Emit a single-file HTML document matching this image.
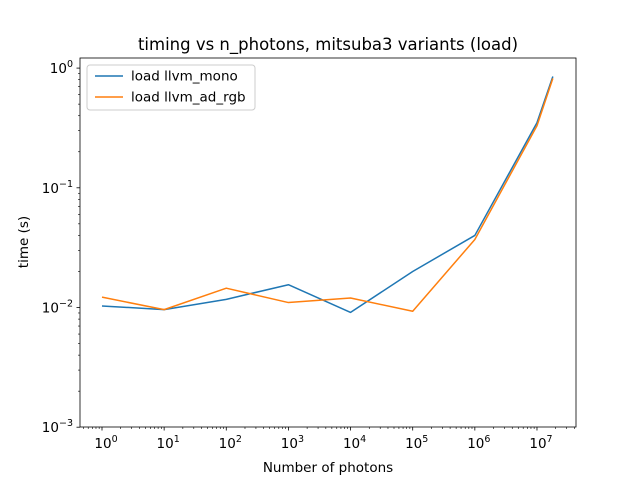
<!DOCTYPE html>
<html><head><meta charset="utf-8"><style>
body{margin:0;background:#fff}
svg text{font-family:"DejaVu Sans","Liberation Sans",sans-serif;fill:#000}
</style></head><body>
<svg id="chart" width="640" height="480" viewBox="0 0 640 480" xmlns="http://www.w3.org/2000/svg">
<rect width="640" height="480" fill="#fff"/>
<text x="328" y="50" font-size="16.5" text-anchor="middle">timing vs n_photons, mitsuba3 variants (load)</text>
<g id="grid"></g>
<g id="series"></g>
<rect x="80" y="58" width="496" height="369" fill="none" stroke="#000" stroke-width="0.8"/>
<text x="328" y="472" font-size="13.5" text-anchor="middle">Number of photons</text>
<text x="28" y="242" font-size="13.5" text-anchor="middle" transform="rotate(-90 28 242)">time (s)</text>
<g>
<rect x="87" y="65" width="168" height="45" rx="3" fill="#fff" fill-opacity="0.8" stroke="#ccc"/>
<line x1="95" y1="76" x2="123" y2="76" stroke="#1f77b4" stroke-width="1.5"/>
<text x="131" y="80.5" font-size="13.5">load llvm_mono</text>
<line x1="95" y1="97" x2="123" y2="97" stroke="#ff7f0e" stroke-width="1.5"/>
<text x="131" y="101.5" font-size="13.5">load llvm_ad_rgb</text>
</g>
</svg>
<script>
const photons=[1,10,100,1000,1e4,1e5,1e6,1e7,1.8e7];
const monoTimes=[0.0103,0.0096,0.0117,0.0155,0.0091,0.020,0.040,0.35,0.85];
const adRgbTimes=[0.0122,0.0096,0.0145,0.011,0.012,0.0093,0.037,0.33,0.82];
const xTickExps=[0,1,2,3,4,5,6,7];
const yTickExps=[-3,-2,-1,0];
const NS="http://www.w3.org/2000/svg";
function xs(v){return 102+Math.log10(v)*62.14;}
function ys(v){return 427.2-(Math.log10(v)+3)*119.7;}
function mk(tag,attrs,parent){const e=document.createElementNS(NS,tag);for(const k in attrs)e.setAttribute(k,attrs[k]);parent.appendChild(e);return e;}
const g=document.getElementById('grid');
xTickExps.forEach(e=>{
  const x=xs(Math.pow(10,e));
  const t=mk('line',{x1:x,y1:427,x2:x,y2:430.5,stroke:'#000','stroke-width':0.8},g);
  
  
  const tx=mk('text',{x:x+4,y:448,'font-size':13.5,'text-anchor':'middle'},g);
  
  
  tx.textContent='10';
  const sp=mk('tspan',{dy:-6,'font-size':9.5},tx);sp.textContent=e;
});
for(let e=-1;e<=7;e++)for(let m=2;m<10;m++){
  const x=xs(m*Math.pow(10,e));if(x<80||x>576)continue;
  const t=mk('line',{x1:x,y1:427,x2:x,y2:429,stroke:'#000','stroke-width':0.6},g);
  
  
}
yTickExps.forEach(e=>{
  const y=ys(Math.pow(10,e));
  const t=mk('line',{x1:76.5,y1:y,x2:80,y2:y,stroke:'#000','stroke-width':0.8},g);
  
  
  const tx=mk('text',{x:73,y:y+5,'font-size':13.5,'text-anchor':'end'},g);
  
  
  tx.textContent='10';
  const sp=mk('tspan',{dy:-6,'font-size':9.5},tx);sp.textContent=e<0?'\u2212'+(-e):e;
});
for(let e=-3;e<=0;e++)for(let m=2;m<10;m++){
  const y=ys(m*Math.pow(10,e));if(y<58||y>427)continue;
  const t=mk('line',{x1:78,y1:y,x2:80,y2:y,stroke:'#000','stroke-width':0.6},g);
  
  
}
const s=document.getElementById('series');
[[monoTimes,'#1f77b4','line-llvm-mono'],[adRgbTimes,'#ff7f0e','line-llvm-ad-rgb']].forEach(([d,c,n])=>{
  const p=mk('polyline',{points:photons.map((v,i)=>xs(v)+','+ys(d[i])).join(' '),fill:'none',stroke:c,'stroke-width':1.5,'stroke-linejoin':'round'},s);
  
  
});
</script>
</body></html>
